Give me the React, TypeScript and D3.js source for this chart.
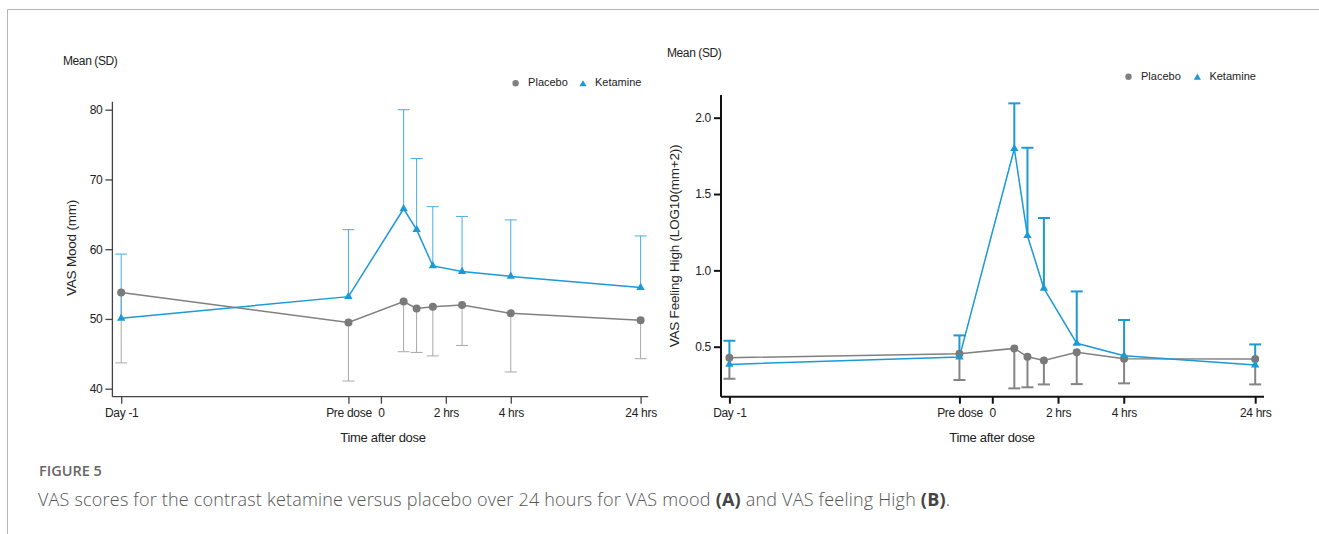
import React, { useEffect, useRef } from "react";
import * as d3 from "d3";

// time points (hours relative to dose) as plotted in each panel
const hoursMood = [-24, -1, 0.7, 1.1, 1.6, 2.5, 4, 24];
const hoursHigh = [-24, -1, 0.67, 1.07, 1.57, 2.57, 4.05, 24];

const timeTicks = [-24, -1, 0, 2, 4, 24];
const timeTickLabels = ["Day -1", "Pre dose", "0", "2 hrs", "4 hrs", "24 hrs"];

// panel A: VAS mood (mm)
const moodTicks = [40, 50, 60, 70, 80];
const moodKetamine = [50.1, 53.2, 65.8, 62.8, 57.6, 56.8, 56.1, 54.5];
const moodKetamineSD = [9.2, 9.6, 14.2, 10.2, 8.5, 7.9, 8.1, 7.4];
const moodPlacebo = [53.8, 49.5, 52.5, 51.5, 51.75, 52.0, 50.8, 49.8];
const moodPlaceboSD = [10.1, 8.4, 7.2, 6.3, 7.05, 5.8, 8.4, 5.5];

// panel B: VAS feeling high, log10(mm+2)
const highTicks = [0.5, 1.0, 1.5, 2.0];
const highKetamine = [0.384, 0.432, 1.797, 1.227, 0.882, 0.522, 0.441, 0.38];
const highKetamineSD = [0.155, 0.142, 0.297, 0.576, 0.461, 0.34, 0.234, 0.135];
const highPlacebo = [0.428, 0.454, 0.489, 0.434, 0.41, 0.463, 0.421, 0.419];
const highPlaceboSD = [0.138, 0.172, 0.262, 0.2, 0.157, 0.208, 0.161, 0.166];

const BLUE = "#1b9ad6";
const GREY = "#808080";
const FONT = "'Liberation Sans', Arial, sans-serif";

function drawPanel(svg, p) {
  const g = svg.append("g");

  // piecewise time axis: day -1 .. pre dose .. 4 hrs .. 24 hrs
  const x = d3
    .scaleLinear()
    .domain([-24, -1, 4, 24])
    .range([p.x0, p.x0 + 0.4375 * (p.x1 - p.x0), p.x0 + 0.75 * (p.x1 - p.x0), p.x1]);
  const y = d3.scaleLinear().domain(p.yDomain).range(p.yRange);

  // axis lines
  g.append("line")
    .attr("x1", p.axisX).attr("x2", p.axisX)
    .attr("y1", p.axisTop).attr("y2", p.axisY)
    .attr("stroke", p.axisColor).attr("stroke-width", p.axisWidth);
  g.append("line")
    .attr("x1", p.axisX).attr("x2", p.axisEnd)
    .attr("y1", p.axisY).attr("y2", p.axisY)
    .attr("stroke", p.axisColor).attr("stroke-width", p.axisWidth);

  const styleAxis = (a) => {
    a.select(".domain").remove();
    a.selectAll(".tick line").attr("stroke", p.axisColor).attr("stroke-width", p.axisWidth);
    a.selectAll(".tick text")
      .attr("fill", "#222")
      .style("font-family", FONT)
      .style("font-size", "12px")
      .style("letter-spacing", "-0.3px");
  };

  g.append("g")
    .attr("transform", `translate(${p.axisX},0)`)
    .call(
      d3.axisLeft(y).tickValues(p.yTicks).tickSize(7).tickPadding(3).tickSizeOuter(0)
        .tickFormat(p.yFormat)
    )
    .call(styleAxis);

  g.append("g")
    .attr("transform", `translate(0,${p.axisY})`)
    .call(
      d3.axisBottom(x).tickValues(timeTicks).tickSize(7).tickPadding(5).tickSizeOuter(0)
        .tickFormat((d, i) => timeTickLabels[i])
    )
    .call(styleAxis);

  // axis titles
  g.append("text")
    .attr("transform", `translate(${p.yLabelX},${p.yLabelY}) rotate(-90)`)
    .attr("text-anchor", "middle")
    .attr("dominant-baseline", "middle")
    .attr("fill", "#222")
    .style("font-family", FONT)
    .style("font-size", "13.5px")
    .style("letter-spacing", "-0.2px")
    .text(p.yLabel);
  g.append("text")
    .attr("x", p.xLabelX).attr("y", 442)
    .attr("text-anchor", "middle")
    .attr("fill", "#222")
    .style("font-family", FONT)
    .style("font-size", "13px")
    .style("letter-spacing", "-0.3px")
    .text("Time after dose");
  g.append("text")
    .attr("x", p.meanX).attr("y", p.meanY)
    .attr("dominant-baseline", "middle")
    .attr("fill", "#222")
    .style("font-family", FONT)
    .style("font-size", "12px")
    .style("letter-spacing", "-0.4px")
    .text("Mean (SD)");

  // legend
  const leg = g.append("g").attr("transform", `translate(${p.legX},${p.legY})`);
  leg.append("circle").attr("cx", 0).attr("cy", 0).attr("r", 3.2).attr("fill", GREY);
  leg.append("text").attr("x", 12.5).attr("y", 0).attr("dominant-baseline", "middle")
    .attr("fill", "#222").style("font-family", FONT).style("font-size", "11px")
    .text("Placebo");
  leg.append("path")
    .attr("transform", `translate(${p.legTri},1)`)
    .attr("d", d3.symbol(d3.symbolTriangle, 22)())
    .attr("fill", BLUE);
  leg.append("text").attr("x", p.legTri + 12).attr("y", 0).attr("dominant-baseline", "middle")
    .attr("fill", "#222").style("font-family", FONT).style("font-size", "11px")
    .text("Ketamine");

  const series = [
    { values: p.placebo, sd: p.placeboSD, dir: -1, color: GREY, err: p.placeboErr, shape: "circle" },
    { values: p.ketamine, sd: p.ketamineSD, dir: 1, color: BLUE, err: p.ketamineErr, shape: "triangle" },
  ];

  // one-sided SD bars (ketamine up, placebo down)
  series.forEach((s) => {
    const eb = g.append("g");
    s.values.forEach((v, i) => {
      const cx = x(p.hours[i]);
      const yEnd = y(v + s.dir * s.sd[i]);
      eb.append("line").attr("x1", cx).attr("x2", cx).attr("y1", y(v)).attr("y2", yEnd)
        .attr("stroke", s.err).attr("stroke-width", p.errWidth);
      eb.append("line").attr("x1", cx - 6).attr("x2", cx + 6).attr("y1", yEnd).attr("y2", yEnd)
        .attr("stroke", s.err).attr("stroke-width", p.errWidth);
    });
  });

  const line = d3.line().x((d) => x(d[0])).y((d) => y(d[1]));
  series.forEach((s) => {
    g.append("path")
      .datum(s.values.map((v, i) => [p.hours[i], v]))
      .attr("d", line)
      .attr("fill", "none")
      .attr("stroke", s.color)
      .attr("stroke-width", 1.5);
  });

  series.forEach((s) => {
    s.values.forEach((v, i) => {
      if (s.shape === "circle") {
        g.append("circle").attr("cx", x(p.hours[i])).attr("cy", y(v)).attr("r", 4)
          .attr("fill", "#7a7a7a");
      } else {
        g.append("path")
          .attr("transform", `translate(${x(p.hours[i])},${y(v)})`)
          .attr("d", d3.symbol(d3.symbolTriangle, 30)())
          .attr("fill", BLUE);
      }
    });
  });
}

export default function App() {
  const ref = useRef(null);

  useEffect(() => {
    const svg = d3.select(ref.current);
    svg.selectAll("*").remove();

    // figure frame
    svg.append("path").attr("d", "M7.5,534 L7.5,9.5 L1319,9.5")
      .attr("fill", "none").attr("stroke", "#b5b5b5").attr("stroke-width", 1);

    drawPanel(svg, {
      hours: hoursMood,
      x0: 121.2, x1: 640.6,
      yDomain: [40, 80], yRange: [388.7, 109.7], yTicks: moodTicks,
      yFormat: d3.format("d"),
      axisX: 112.4, axisTop: 101.7, axisY: 396.7, axisEnd: 648.2,
      axisColor: "#444", axisWidth: 1.3,
      yLabel: "VAS Mood (mm)", yLabelX: 72, yLabelY: 248,
      xLabelX: 383, meanX: 63, meanY: 62,
      legX: 515.6, legY: 83.3, legTri: 67.4,
      ketamine: moodKetamine, ketamineSD: moodKetamineSD,
      placebo: moodPlacebo, placeboSD: moodPlaceboSD,
      ketamineErr: "#48ade0", placeboErr: "#a8a8a8", errWidth: 1,
    });

    drawPanel(svg, {
      hours: hoursHigh,
      x0: 729.4, x1: 1255.2,
      yDomain: [0.5, 2.0], yRange: [346.7, 117.7], yTicks: highTicks,
      yFormat: d3.format(".1f"),
      axisX: 721, axisTop: 95, axisY: 396.7, axisEnd: 1264,
      axisColor: "#111", axisWidth: 2,
      yLabel: "VAS Feeling High (LOG10(mm+2))", yLabelX: 675.5, yLabelY: 246,
      xLabelX: 992, meanX: 667, meanY: 54,
      legX: 1128.5, legY: 76.7, legTri: 68.9,
      ketamine: highKetamine, ketamineSD: highKetamineSD,
      placebo: highPlacebo, placeboSD: highPlaceboSD,
      ketamineErr: BLUE, placeboErr: "#858585", errWidth: 2,
    });

    // caption
    svg.append("text").attr("x", 39).attr("y", 476)
      .attr("fill", "#666")
      .style("font-family", "'Open Sans', sans-serif")
      .style("font-size", "14.5px").style("font-weight", 600)
      .text("FIGURE 5");
    const cap = svg.append("text").attr("x", 38).attr("y", 506)
      .attr("fill", "#555")
      .style("font-family", "'Open Sans', sans-serif")
      .style("font-size", "18px").style("font-weight", 300)
      .style("letter-spacing", "0.2px");
    cap.append("tspan").text("VAS scores for the contrast ketamine versus placebo over 24 hours for VAS mood ");
    cap.append("tspan").style("font-weight", 700).attr("fill", "#444").text("(A)");
    cap.append("tspan").text(" and VAS feeling High ");
    cap.append("tspan").style("font-weight", 700).attr("fill", "#444").text("(B)");
    cap.append("tspan").text(".");
  }, []);

  return (
    <svg
      ref={ref}
      width={1319}
      height={534}
      style={{ position: "absolute", left: 0, top: 0, background: "#fff" }}
    />
  );
}
